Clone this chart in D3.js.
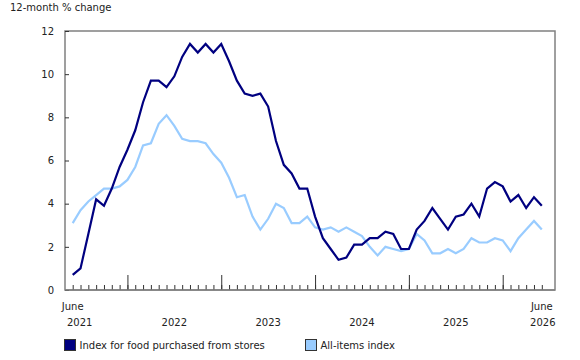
<!DOCTYPE html>
<html>
<head>
<meta charset="utf-8">
<script src="https://cdn.jsdelivr.net/npm/d3@7"></script>
<style>
    body { margin: 0; background: #fff; }
    text { font-family: "DejaVu Sans", Verdana, sans-serif; fill: #222; }
</style>
</head>
<body>
<div id="chart"></div>
<script>
// monthly points, June 2021 .. June 2026
var startLabel = ["June", "2021"];
var endLabel = ["June", "2026"];
var yearLabels = ["2022", "2023", "2024", "2025"];
var yTicks = [0, 2, 4, 6, 8, 10, 12];
var seriesNames = ["Index for food purchased from stores", "All-items index"];

var food = [0.7, 1.0, 2.6, 4.2, 3.9, 4.7, 5.7, 6.5, 7.4, 8.7, 9.7, 9.7, 9.4,
    9.9, 10.8, 11.4, 11.0, 11.4, 11.0, 11.4, 10.6, 9.7, 9.1, 9.0, 9.1,
    8.5, 6.9, 5.8, 5.4, 4.7, 4.7, 3.4, 2.4, 1.9, 1.4, 1.5, 2.1,
    2.1, 2.4, 2.4, 2.7, 2.6, 1.9, 1.9, 2.8, 3.2, 3.8, 3.3, 2.8,
    3.4, 3.5, 4.0, 3.4, 4.7, 5.0, 4.8, 4.1, 4.4, 3.8, 4.3, 3.9];

var allItems = [3.1, 3.7, 4.1, 4.4, 4.7, 4.7, 4.8, 5.1, 5.7, 6.7, 6.8, 7.7, 8.1,
    7.6, 7.0, 6.9, 6.9, 6.8, 6.3, 5.9, 5.2, 4.3, 4.4, 3.4, 2.8,
    3.3, 4.0, 3.8, 3.1, 3.1, 3.4, 2.9, 2.8, 2.9, 2.7, 2.9, 2.7,
    2.5, 2.0, 1.6, 2.0, 1.9, 1.8, 1.9, 2.6, 2.3, 1.7, 1.7, 1.9,
    1.7, 1.9, 2.4, 2.2, 2.2, 2.4, 2.3, 1.8, 2.4, 2.8, 3.2, 2.8];

var colors = ["#000080", "#99ccff"];

var W = 580, H = 360;
var plot = { left: 65, right: 555, top: 31, bottom: 290 };

var svg = d3.select("#chart").append("svg")
    .attr("width", W)
    .attr("height", H);

var n = food.length;
var months = d3.range(n);

var x = d3.scaleLinear()
    .domain([0, n - 1])
    .range([72.7, 541.8]);

var y = d3.scaleLinear()
    .domain([0, 12])
    .range([plot.bottom, plot.top]);

// y axis title
svg.append("text")
    .attr("x", 10)
    .attr("y", 11)
    .style("font-size", "10px")
    .text("12-month % change");

// frame
svg.append("rect")
    .attr("x", plot.left)
    .attr("y", plot.top)
    .attr("width", plot.right - plot.left)
    .attr("height", plot.bottom - plot.top)
    .attr("fill", "none")
    .attr("stroke", "#808080")
    .attr("stroke-width", 1.5);

// y axis, ticks pointing inward
var yAxis = svg.append("g")
    .attr("transform", "translate(" + plot.left + ",0)")
    .call(d3.axisLeft(y).tickValues(yTicks).tickSizeInner(-4).tickSizeOuter(0).tickPadding(11));
yAxis.select(".domain").remove();
yAxis.selectAll("line").attr("stroke", "#333");
yAxis.selectAll("text").style("font-size", "10px").attr("fill", "#222");

// month ticks (minor) and january ticks (major)
var januaries = months.filter(function (i) { return (i + 5) % 12 === 0; });

var xMinor = svg.append("g")
    .attr("transform", "translate(0," + plot.bottom + ")")
    .call(d3.axisBottom(x).tickValues(months).tickSizeInner(-5).tickSizeOuter(0).tickFormat(""));
xMinor.select(".domain").remove();
xMinor.selectAll("line").attr("stroke", "#333");

var xMajor = svg.append("g")
    .attr("transform", "translate(0," + plot.bottom + ")")
    .call(d3.axisBottom(x).tickValues(januaries).tickSizeInner(-15).tickSizeOuter(0).tickFormat(""));
xMajor.select(".domain").remove();
xMajor.selectAll("line").attr("stroke", "#333");

// bottom line drawn over ticks
svg.append("line")
    .attr("x1", plot.left).attr("x2", plot.right)
    .attr("y1", plot.bottom).attr("y2", plot.bottom)
    .attr("stroke", "#808080")
    .attr("stroke-width", 1.5);

// x labels
var labels = svg.append("g").style("font-size", "10px").style("text-anchor", "middle");

labels.append("text").attr("x", x(0)).attr("y", 310).text(startLabel[0]);
labels.append("text").attr("x", x(0) + 7).attr("y", 326).text(startLabel[1]);
labels.append("text").attr("x", x(n - 1)).attr("y", 310).text(endLabel[0]);
labels.append("text").attr("x", x(n - 1) + 1).attr("y", 326).text(endLabel[1]);

labels.selectAll(".year")
    .data(yearLabels)
    .enter().append("text")
    .attr("class", "year")
    .attr("x", function (d, i) { return (x(januaries[i]) + x(januaries[i] + 12)) / 2; })
    .attr("y", 326)
    .text(function (d) { return d; });

// lines
var line = d3.line()
    .x(function (d, i) { return x(i); })
    .y(function (d) { return y(d); });

[allItems, food].forEach(function (data, k) {
    svg.append("path")
        .datum(data)
        .attr("fill", "none")
        .attr("stroke", k === 0 ? colors[1] : colors[0])
        .attr("stroke-width", 2.2)
        .attr("stroke-linejoin", "miter")
        .attr("d", line);
});

// legend
var legend = svg.selectAll(".legend")
    .data(seriesNames)
    .enter().append("g")
    .attr("class", "legend")
    .attr("transform", function (d, i) { return "translate(" + [64.5, 305.5][i] + ",339.5)"; });

legend.append("rect")
    .attr("width", 11)
    .attr("height", 11)
    .attr("fill", function (d, i) { return colors[i]; })
    .attr("stroke", "#333")
    .attr("stroke-width", 1);

legend.append("text")
    .attr("x", 15)
    .attr("y", 9.5)
    .style("font-size", "10px")
    .text(function (d) { return d; });
</script>
</body>
</html>
